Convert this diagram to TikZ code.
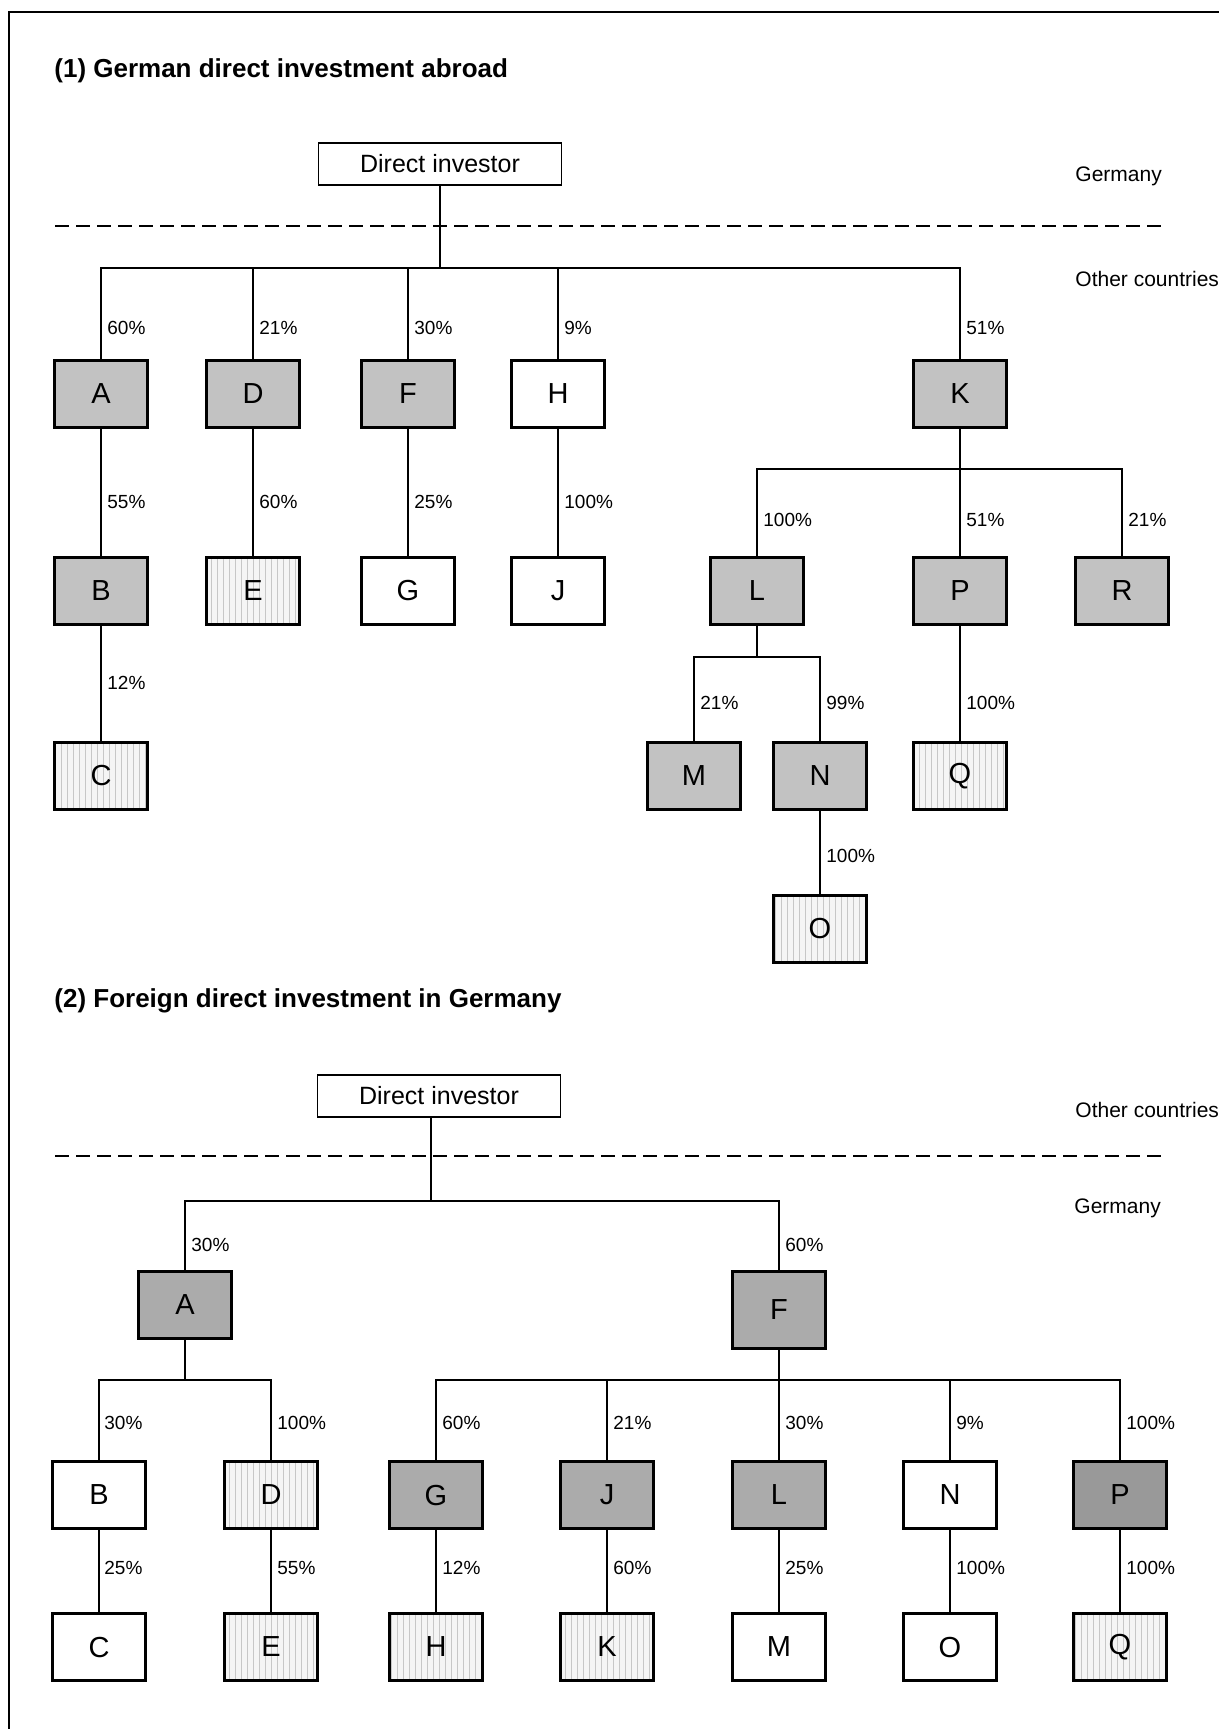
\documentclass[tikz,border=0pt]{standalone}
\usepackage{fontspec}
\setmainfont{Liberation Sans}
\usetikzlibrary{patterns}
\begin{document}
\begin{tikzpicture}[x=0.5pt,y=-0.5pt,
  box/.style={draw, line width=1.35pt, minimum width=46.5pt, minimum height=33.5pt, inner sep=0pt, font=\fontsize{14.5}{16}\selectfont},
  gA/.style={box, fill=black!24},
  gB/.style={box, fill=black!33},
  gC/.style={box, fill=black!40},
  dotbox/.style={box, preaction={fill=black!4}, pattern=vertical lines, pattern color=black!22},
  wbox/.style={box, fill=white},
  investor/.style={draw, line width=0.9pt, minimum width=121.5pt, minimum height=21pt, inner sep=0pt, font=\fontsize{12.5}{14}\selectfont},
  conn/.style={line width=0.6pt},
  pct/.style={anchor=west, inner sep=0pt, font=\fontsize{9.5}{11}\selectfont},
  region/.style={anchor=base west, inner sep=0pt, font=\fontsize{10.5}{12}\selectfont},
  heading/.style={anchor=base west, inner sep=0pt, font=\fontsize{13}{15}\selectfont\bfseries},
  border/.style={dashed, dash pattern=on 7pt off 3.5pt, line width=1pt}
]
\useasboundingbox (0,0) rectangle (1219,1729);
% frame
\draw[line width=1pt] (9,1729) -- (9,12) -- (1219,12);

% ================= Section 1 =================
\node[heading] (t1) at (54,77) {(1) German direct investment abroad};
\node[investor] (s1di) at (440,164) {Direct investor};
\node[region] (s1ger) at (1075,181) {Germany};
\node[region] (s1oth) at (1075,286) {Other countries};
\draw[border] (55,226) -- (1164,226);

\node[gA] (s1A) at (101,394) {A};
\node[gA] (s1D) at (253,394) {D};
\node[gA] (s1F) at (408,394) {F};
\node[wbox] (s1H) at (558,394) {H};
\node[gA] (s1K) at (960,394) {K};

\node[gA] (s1B) at (101,591) {B};
\node[dotbox] (s1E) at (253,591) {E};
\node[wbox] (s1G) at (408,591) {G};
\node[wbox] (s1J) at (558,591) {J};
\node[gA] (s1L) at (757,591) {L};
\node[gA] (s1P) at (960,591) {P};
\node[gA] (s1R) at (1122,591) {R};

\node[dotbox] (s1C) at (101,776) {C};
\node[gA] (s1M) at (694,776) {M};
\node[gA] (s1N) at (820,776) {N};
\node[dotbox] (s1Q) at (960,776) {Q};
\node[dotbox] (s1O) at (820,929) {O};

\coordinate (s1bar) at (440,268);
\draw[conn] (s1di.south) -- (s1bar);
\draw[conn] (s1A.north) |- (s1bar) -| (s1K.north);
\draw[conn] (s1D.north) -- (s1D.north |- s1bar);
\draw[conn] (s1F.north) -- (s1F.north |- s1bar);
\draw[conn] (s1H.north) -- (s1H.north |- s1bar);
\draw[conn] (s1A) -- (s1B);
\draw[conn] (s1B) -- (s1C);
\draw[conn] (s1D) -- (s1E);
\draw[conn] (s1F) -- (s1G);
\draw[conn] (s1H) -- (s1J);
\coordinate (s1kbar) at (960,469);
\draw[conn] (s1K) -- (s1P);
\draw[conn] (s1L.north) |- (s1kbar) -| (s1R.north);
\coordinate (s1lbar) at (757,657);
\draw[conn] (s1L.south) -- (s1lbar);
\draw[conn] (s1M.north) |- (s1lbar) -| (s1N.north);
\draw[conn] (s1P) -- (s1Q);
\draw[conn] (s1N) -- (s1O);

\node[pct] (p1a) at (107,328) {60\%};
\node[pct] (p1d) at (259,328) {21\%};
\node[pct] (p1f) at (414,328) {30\%};
\node[pct] (p1h) at (564,328) {9\%};
\node[pct] (p1k) at (966,328) {51\%};
\node[pct] (p1b) at (107,502) {55\%};
\node[pct] (p1e) at (259,502) {60\%};
\node[pct] (p1g) at (414,502) {25\%};
\node[pct] (p1j) at (564,502) {100\%};
\node[pct] (p1l) at (763,520) {100\%};
\node[pct] (p1p) at (966,520) {51\%};
\node[pct] (p1r) at (1128,520) {21\%};
\node[pct] (p1c) at (107,683) {12\%};
\node[pct] (p1m) at (700,703) {21\%};
\node[pct] (p1n) at (826,703) {99\%};
\node[pct] (p1q) at (966,703) {100\%};
\node[pct] (p1o) at (826,856) {100\%};

% ================= Section 2 =================
\node[heading] (t2) at (54,1007) {(2) Foreign direct investment in Germany};
\node[investor] (s2di) at (439,1096) {Direct investor};
\node[region] (s2oth) at (1075,1117) {Other countries};
\node[region] (s2ger) at (1074,1213) {Germany};
\draw[border] (55,1156) -- (1164,1156);

\node[gB] (s2A) at (185,1305) {A};
\node[gB, minimum height=38.5pt] (s2F) at (779,1310) {F};

\node[wbox] (s2B) at (99,1495) {B};
\node[dotbox] (s2D) at (271,1495) {D};
\node[gB] (s2G) at (436,1495) {G};
\node[gB] (s2J) at (607,1495) {J};
\node[gB] (s2L) at (779,1495) {L};
\node[wbox] (s2N) at (950,1495) {N};
\node[gC] (s2P) at (1120,1495) {P};

\node[wbox] (s2C) at (99,1647) {C};
\node[dotbox] (s2E) at (271,1647) {E};
\node[dotbox] (s2H) at (436,1647) {H};
\node[dotbox] (s2K) at (607,1647) {K};
\node[wbox] (s2M) at (779,1647) {M};
\node[wbox] (s2O) at (950,1647) {O};
\node[dotbox] (s2Q) at (1120,1647) {Q};

\coordinate (s2top) at (431,1201);
\draw[conn] (s2di.south -| s2top) -- (s2top);
\draw[conn] (s2A.north) |- (s2top) -| (s2F.north);
\coordinate (s2abar) at (185,1380);
\draw[conn] (s2A.south) -- (s2abar);
\draw[conn] (s2B.north) |- (s2abar) -| (s2D.north);
\coordinate (s2fbar) at (779,1380);
\draw[conn] (s2F) -- (s2L);
\draw[conn] (s2G.north) |- (s2fbar) -| (s2P.north);
\draw[conn] (s2J.north) -- (s2J.north |- s2fbar);
\draw[conn] (s2N.north) -- (s2N.north |- s2fbar);
\draw[conn] (s2B) -- (s2C);
\draw[conn] (s2D) -- (s2E);
\draw[conn] (s2G) -- (s2H);
\draw[conn] (s2J) -- (s2K);
\draw[conn] (s2L) -- (s2M);
\draw[conn] (s2N) -- (s2O);
\draw[conn] (s2P) -- (s2Q);

\node[pct] (p2a) at (191,1245) {30\%};
\node[pct] (p2f) at (785,1245) {60\%};
\node[pct] (p2b) at (104,1423) {30\%};
\node[pct] (p2d) at (277,1423) {100\%};
\node[pct] (p2g) at (442,1423) {60\%};
\node[pct] (p2j) at (613,1423) {21\%};
\node[pct] (p2l) at (785,1423) {30\%};
\node[pct] (p2n) at (956,1423) {9\%};
\node[pct] (p2p) at (1126,1423) {100\%};
\node[pct] (p2c) at (104,1568) {25\%};
\node[pct] (p2e) at (277,1568) {55\%};
\node[pct] (p2h) at (442,1568) {12\%};
\node[pct] (p2k) at (613,1568) {60\%};
\node[pct] (p2m) at (785,1568) {25\%};
\node[pct] (p2o) at (956,1568) {100\%};
\node[pct] (p2q) at (1126,1568) {100\%};
\end{tikzpicture}
\end{document}
